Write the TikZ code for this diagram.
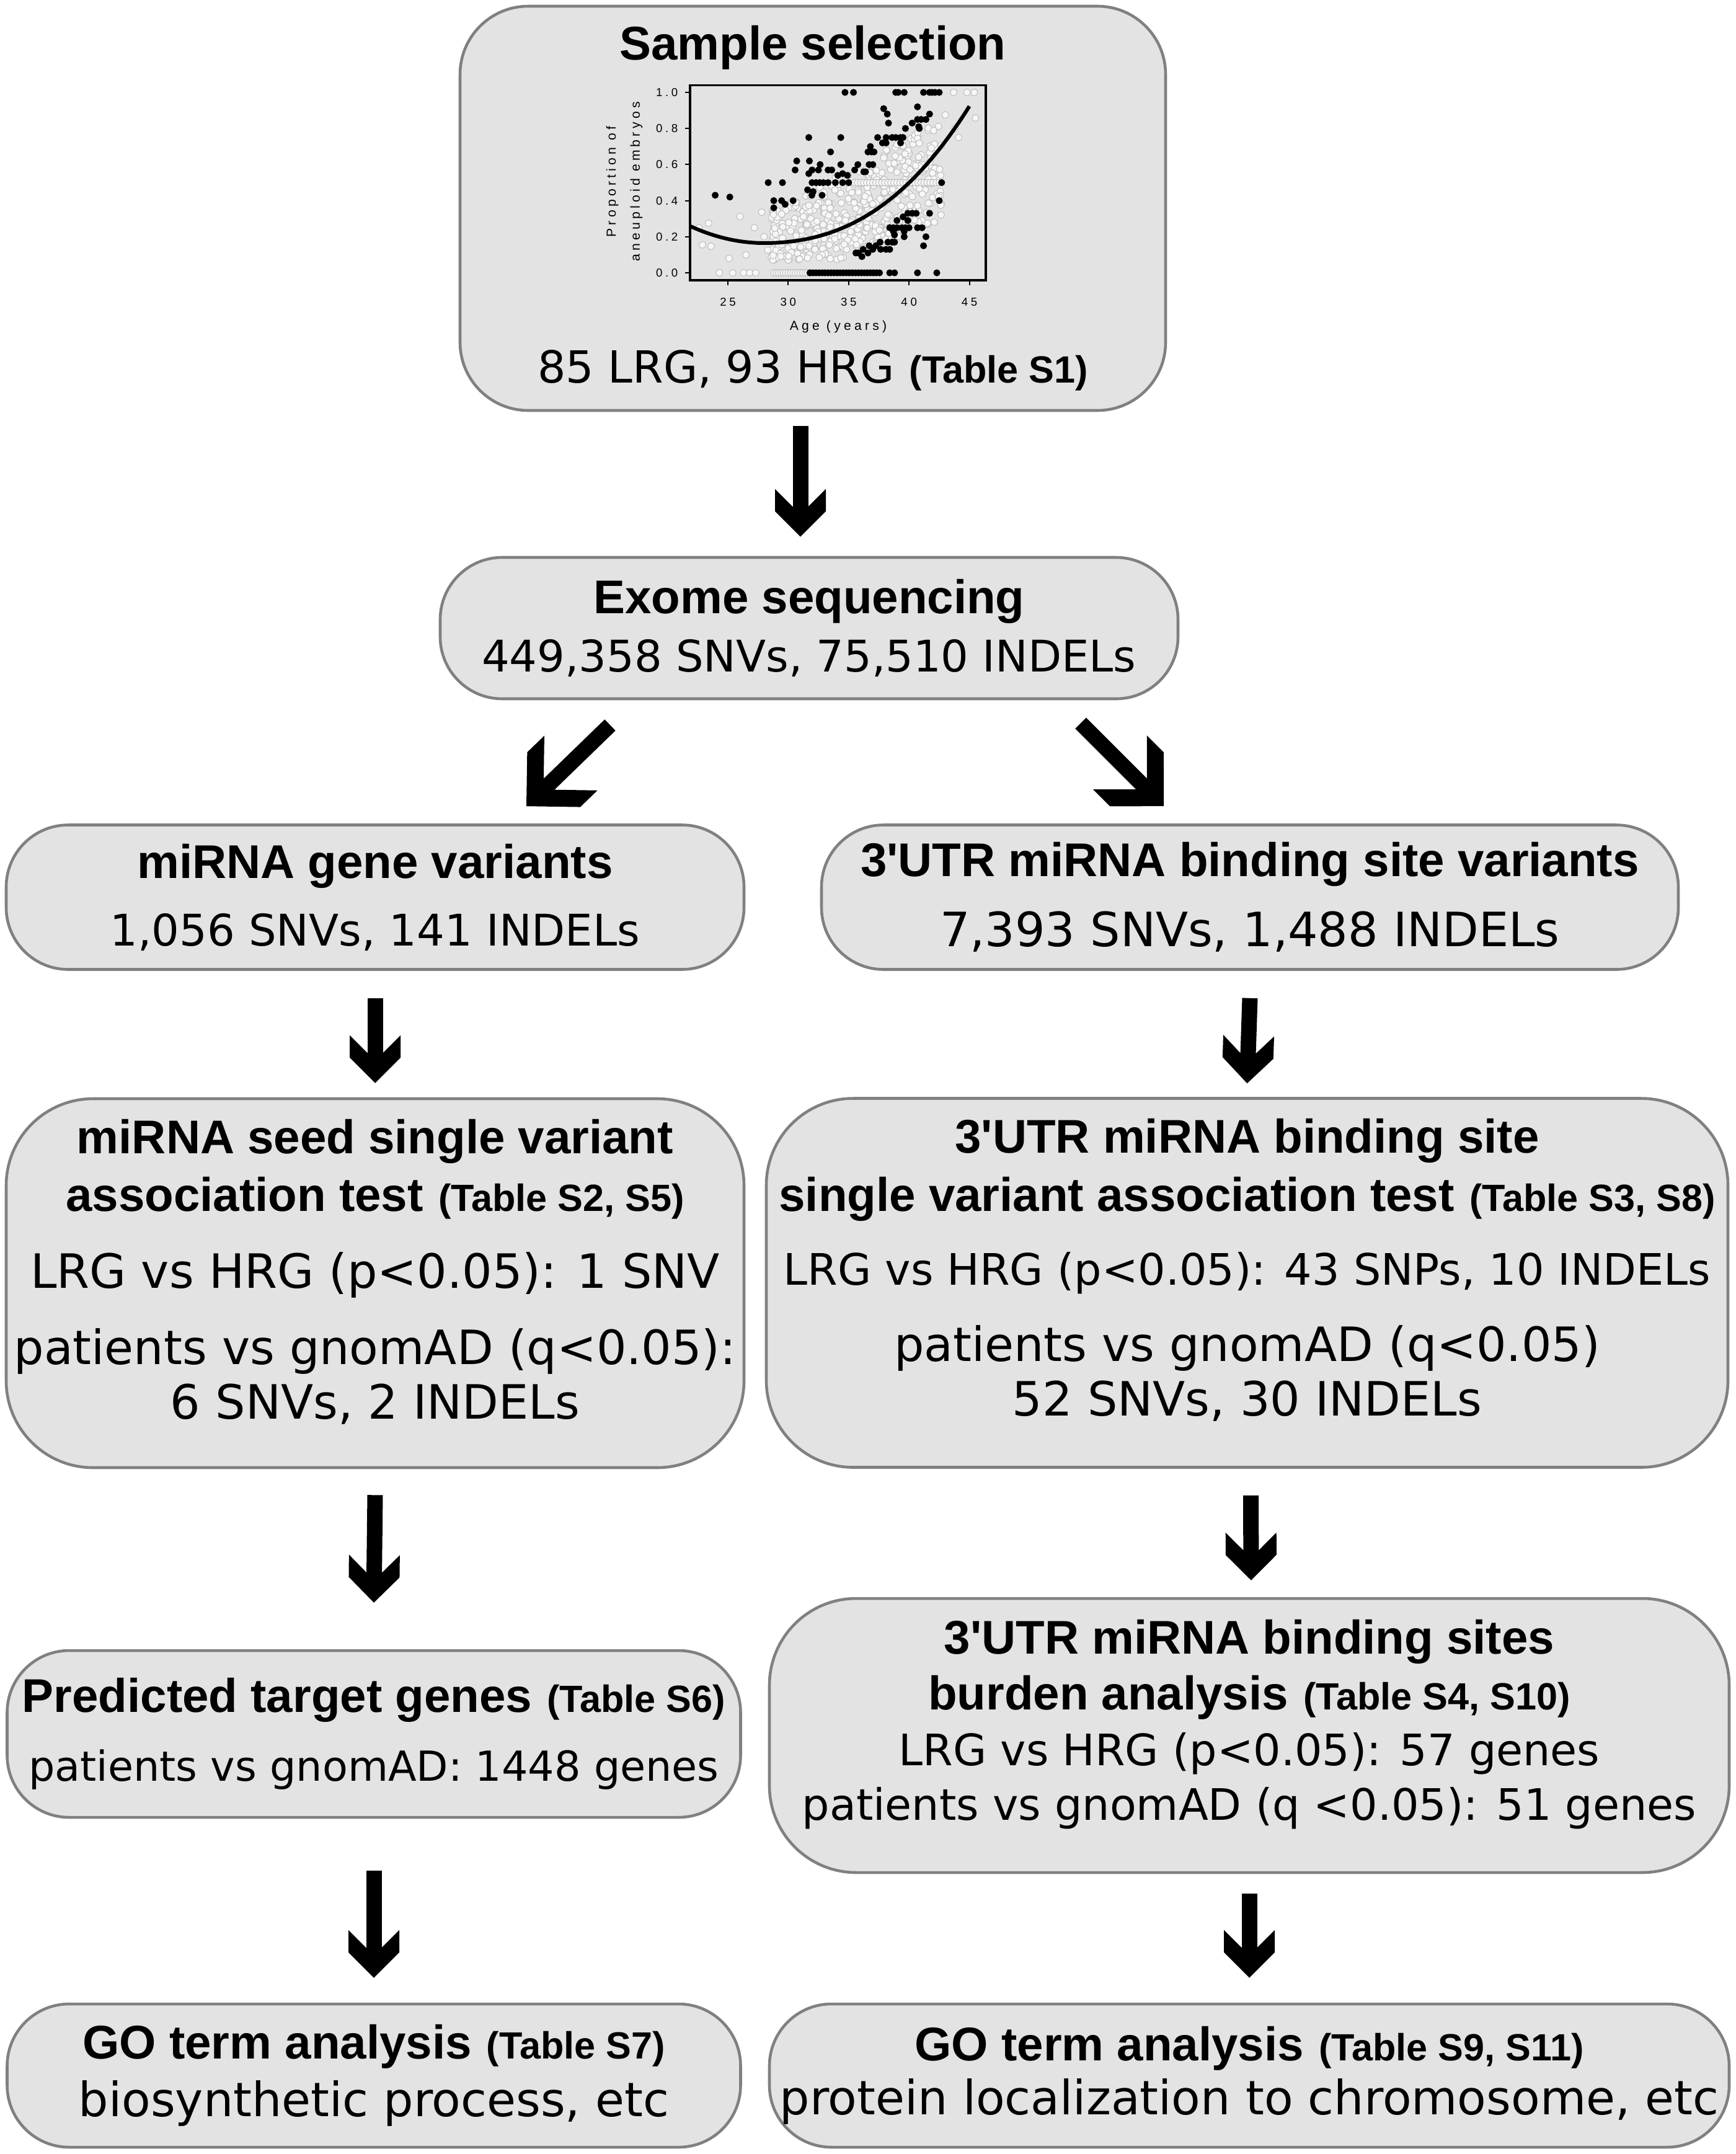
\documentclass[tikz,border=0pt]{standalone}
\usepackage{fontspec}
\setmainfont{DejaVu Sans}
\newfontfamily\arialfont{Liberation Sans}[Ligatures=TeXOff]
\newfontfamily\plotfont{Liberation Sans}[LetterSpace=25]
\usetikzlibrary{arrows.meta}

\definecolor{boxfill}{HTML}{E3E3E3}
\definecolor{boxline}{HTML}{808080}

\newcommand{\boxhead}[1]{{\arialfont\bfseries\fontsize{21.7}{26}\selectfont #1}}
\newcommand{\tabref}[1]{{\arialfont\bfseries\fontsize{17.4}{20}\selectfont #1}}
\newcommand{\txtsize}[1]{\fontsize{#1}{26}\selectfont}

% fat arrow head with a notch
\pgfdeclarearrow{
  name = Chevron,
  parameters = {\the\pgfarrowlength,\the\pgfarrowwidth},
  setup code = {
    \pgfarrowssettipend{0pt}
    \pgfarrowssetlineend{-.45\pgfarrowlength}
    \pgfarrowshullpoint{0pt}{0pt}
    \pgfarrowsupperhullpoint{-\pgfarrowlength}{.5\pgfarrowwidth}
    \pgfarrowssavethe\pgfarrowlength
    \pgfarrowssavethe\pgfarrowwidth
  },
  drawing code = {
    \pgfmathsetlengthmacro\chevnotch{-\pgfarrowlength+0.5*\pgfarrowwidth-1.25mm}
    \pgfpathmoveto{\pgfpointorigin}
    \pgfpathlineto{\pgfpoint{-.5\pgfarrowwidth}{.5\pgfarrowwidth}}
    \pgfpathlineto{\pgfpoint{-\pgfarrowlength}{.5\pgfarrowwidth}}
    \pgfpathlineto{\pgfpoint{\chevnotch}{1.25mm}}
    \pgfpathlineto{\pgfpoint{\chevnotch}{-1.25mm}}
    \pgfpathlineto{\pgfpoint{-\pgfarrowlength}{-.5\pgfarrowwidth}}
    \pgfpathlineto{\pgfpoint{-.5\pgfarrowwidth}{-.5\pgfarrowwidth}}
    \pgfpathclose
    \pgfusepathqfill
  },
  defaults = {length=7.7mm, width=8.2mm}
}

\begin{document}
\begin{tikzpicture}
% Styles
\tikzset{
box/.style={draw=boxline, fill=boxfill, line width=1.3pt, rounded corners=1cm, align=center, inner sep=0pt, font=\txtsize{21.7}},
flow/.style={line width=2.5mm, -{Chevron}},
skew/.style={line width=2.5mm, -{Chevron[length=10mm, width=12.3mm]}},
ring/.style={draw=gray!50, fill=gray!6, line width=0.3pt},
blackdot/.style={fill=black},
ticklabel/.style={font=\plotfont\fontsize{5.3}{6}\selectfont, inner sep=0pt},
axislabel/.style={font=\plotfont\fontsize{6}{11}\selectfont, inner sep=0pt, align=center}
}
\useasboundingbox (0,0) rectangle (28,-34.74);

% Sample selection
\node[box, minimum width=11.38cm, minimum height=6.52cm, rounded corners=1.1cm] (sample) at (13.11,-3.36)
  {\boxhead{Sample selection}\\[4.3cm]{\txtsize{20.3}85 LRG, 93 HRG} \tabref{(Table S1)}};

% Age plot
\begin{scope}[shift={(6.87,-4.40)}, x=0.1948cm, y=2.91cm]
  \pgfmathsetseed{11}
  \foreach \i in {1,...,470}{
    \pgfmathsetmacro\ag{28.6+14.2*rnd}
    \pgfmathsetmacro\lo{0.07+max(0,\ag-34)*0.026}
    \pgfmathsetmacro\hi{0.34+(\ag-28.6)*0.036}
    \pgfmathsetmacro\pq{\lo+(\hi-\lo)*rnd}
    \draw[ring] (\ag,\pq) circle[radius=0.055cm];
  }
  \foreach \a in {28.8,29.0,...,31.8} \draw[ring] (\a,0) circle[radius=0.055cm];
  \foreach \a in {35.5,35.75,...,42.5} \draw[ring] (\a,0.5) circle[radius=0.055cm];
  \foreach \a/\p in {22.9/0.155, 23.4/0.275, 23.6/0.147, 25.1/0.08, 26.0/0.312, 26.5/0.10, 27.2/0.25,
    27.8/0.336, 28.3/0.126, 28.0/0.2, 22.6/0.25, 24.3/0, 25.4/0, 26.3/0, 26.8/0, 27.3/0, 43.7/1, 44.8/1,
    45.4/1, 45.5/0.858, 43.0/0.875, 43.8/0.80, 44.1/0.75}
    \draw[ring] (\a,\p) circle[radius=0.055cm];
  \foreach \a/\p in {23.95/0.43, 25.16/0.42, 28.34/0.50, 29.52/0.50, 28.8/0.40, 29.45/0.40, 30.4/0.40,
    28.8/0.36, 29.74/0.38, 30.7/0.62, 30.57/0.57, 31.7/0.75, 31.75/0.62, 31.7/0.55, 31.97/0.57,
    32.64/0.60, 32.5/0.57, 33.3/0.57, 33.6/0.57, 31.97/0.50, 32.3/0.50, 32.6/0.50, 32.9/0.50,
    33.3/0.50, 33.9/0.50, 34.5/0.50, 35.0/0.50, 31.6/0.46, 32.06/0.45, 31.95/0.43, 32.8/0.43,
    33.5/0.67, 34.35/0.75, 34.35/0.60, 34.1/0.54, 34.5/0.55, 34.9/0.54, 34.7/1.0, 35.4/1.0,
    35.5/0.57, 35.76/0.60, 36.25/0.56, 36.4/0.56, 36.6/0.67, 36.9/0.67, 37.1/0.67, 36.8/0.70,
    36.7/0.60, 37.0/0.60, 37.4/0.75, 37.9/0.91, 38.2/0.88, 38.3/0.83, 37.8/0.72, 38.1/0.72,
    38.1/0.75, 38.6/0.75, 38.9/0.75, 39.3/0.75, 39.5/0.75, 39.3/0.72, 38.9/1.0, 39.1/1.0, 39.6/1.0,
    39.7/0.80, 40.26/0.83, 40.7/0.92, 40.7/0.85, 41.0/0.85, 41.4/0.85, 40.8/0.81, 40.85/0.80,
    41.7/0.88, 41.2/1.0, 41.7/1.0, 41.9/1.0, 42.15/1.0, 42.5/1.0, 42.7/0.50, 42.5/0.40, 41.7/0.33,
    41.4/0.20, 41.2/0.15, 40.7/0.25, 41.08/0.25, 38.4/0.25, 38.7/0.25, 39.0/0.25, 39.4/0.25,
    39.7/0.25, 39.0/0.29, 39.5/0.31, 39.9/0.29, 40.0/0.25, 39.9/0.33, 40.26/0.33, 40.6/0.33,
    38.7/0.23, 38.8/0.21, 39.6/0.23, 39.6/0.20, 38.25/0.17, 38.6/0.17, 38.8/0.17, 37.6/0.17,
    38.1/0.13, 38.4/0.13, 35.6/0.11, 35.8/0.11, 36.1/0.09, 36.2/0.13, 36.6/0.11, 36.7/0.15,
    37.0/0.13, 37.25/0.15, 37.65/0.13, 38.4/0, 38.8/0, 40.7/0, 42.3/0}
    \fill[blackdot] (\a,\p) circle[radius=0.056cm];
  \foreach \a in {31.8,32.05,...,37.7} \fill[blackdot] (\a,0) circle[radius=0.056cm];
  \draw[line width=1.7pt] plot[domain=21.87:28, samples=20] (\x,{0.165+0.0025*(\x-28)^2})
    -- plot[domain=28:45, samples=40] (\x,{0.165+0.001582*(\x-28)^2+0.0000626*(\x-28)^3});
  \draw[line width=0.9pt] (21.87,-0.041) rectangle (46.36,1.041);
  \foreach \p in {0.0,0.2,0.4,0.6,0.8,1.0}{
    \draw[line width=0.6pt] (21.87,\p) -- ++(-0.08cm,0);
    \node[ticklabel, anchor=east, xshift=-0.19cm] at (21.87,\p) {\p};
  }
  \foreach \a in {25,30,35,40,45}{
    \draw[line width=0.6pt] (\a,-0.041) -- ++(0,-0.08cm);
    \node[ticklabel, yshift=-0.35cm] at (\a,-0.041) {\a};
  }
\end{scope}
\node[axislabel] (agelabel) at (13.52,-5.27) {Age (years)};
\node[axislabel, rotate=90] (proplabel) at (10.07,-2.93) {Proportion of\\aneuploid embryos};

% Exome sequencing
\node[box, minimum width=11.90cm, minimum height=2.28cm] (exome) at (13.05,-10.13)
  {\boxhead{Exome sequencing}\\[0.7pt]{\txtsize{20}449,358 SNVs, 75,510 INDELs}};

% Variant sets
\node[box, minimum width=11.90cm, minimum height=2.33cm] (mirna) at (6.05,-14.47)
  {\boxhead{miRNA gene variants}\\[5pt]{\txtsize{20}1,056 SNVs, 141 INDELs}};
\node[box, minimum width=13.82cm, minimum height=2.33cm] (utr) at (20.16,-14.47)
  {\boxhead{3'UTR miRNA binding site variants}\\[6pt]7,393 SNVs, 1,488 INDELs};

% Association tests
\node[box, minimum width=11.90cm, minimum height=5.95cm, rounded corners=1.4cm, text depth=0.46cm] (seed) at (6.05,-20.695)
  {\boxhead{miRNA seed single variant}\\[0.4pt]\boxhead{association test} \tabref{(Table S2, S5)}\\[9.4pt]LRG vs HRG (p<0.05): 1 SNV\\[8.9pt]patients vs gnomAD (q<0.05):\\[-1pt]6 SNVs, 2 INDELs};
\node[box, minimum width=15.51cm, minimum height=5.95cm, rounded corners=1.4cm, text depth=0.5cm] (utrtest) at (20.115,-20.69)
  {\boxhead{3'UTR miRNA binding site}\\[0.6pt]\boxhead{single variant association test} \tabref{(Table S3, S8)}\\[8pt]{\txtsize{19.9}LRG vs HRG (p<0.05): 43 SNPs, 10 INDELs}\\[8.9pt]patients vs gnomAD (q<0.05)\\[-0.8pt]52 SNVs, 30 INDELs};

% Targets and burden
\node[box, minimum width=11.83cm, minimum height=2.69cm] (target) at (6.03,-27.965)
  {\boxhead{Predicted target genes} \tabref{(Table S6)}\\[5.7pt]{\txtsize{19}patients vs gnomAD: 1448 genes}};
\node[box, minimum width=15.48cm, minimum height=4.42cm, rounded corners=1.4cm, text depth=0.5cm] (burden) at (20.15,-27.99)
  {\boxhead{3'UTR miRNA binding sites}\\[-0.5pt]\boxhead{burden analysis} \tabref{(Table S4, S10)}\\[-0.5pt]{\txtsize{19.9}LRG vs HRG (p<0.05): 57 genes}\\[-0.8pt]{\txtsize{19.9}patients vs gnomAD (q <0.05): 51 genes}};

% GO terms
\node[box, minimum width=11.83cm, minimum height=2.31cm] (gomirna) at (6.03,-33.475)
  {\boxhead{GO term analysis} \tabref{(Table S7)}\\[0.6pt]biosynthetic process, etc};
\node[box, minimum width=15.48cm, minimum height=2.31cm] (goutr) at (20.15,-33.475)
  {\boxhead{GO term analysis} \tabref{(Table S9, S11)}\\[-1.3pt]protein localization to chromosome, etc};

% Arrows
\draw[flow] ([xshift=-0.2cm, yshift=-0.23cm]sample.south) -- ([xshift=-0.14cm, yshift=0.31cm]exome.north);
\draw[skew] ([shift={(-3.21,-0.40)}]exome.south) -- ([shift={(2.44,0.28)}]mirna.north);
\draw[skew] ([shift={(4.38,-0.37)}]exome.south) -- ([shift={(-1.39,0.28)}]utr.north);
\draw[flow] ([yshift=-0.44cm]mirna.south) -- ([yshift=0.23cm]seed.north);
\draw[flow] ([yshift=-0.44cm]utr.south) -- ([yshift=0.22cm]utrtest.north);
\draw[flow] ([yshift=-0.42cm]seed.south) -- ([yshift=0.75cm]target.north);
\draw[flow] ([xshift=0.06cm, yshift=-0.43cm]utrtest.south) -- ([xshift=0.03cm, yshift=0.27cm]burden.north);
\draw[flow] ([yshift=-0.84cm]target.south) -- ([yshift=0.40cm]gomirna.north);
\draw[flow] ([yshift=-0.32cm]burden.south) -- ([yshift=0.40cm]goutr.north);
\end{tikzpicture}
\end{document}
